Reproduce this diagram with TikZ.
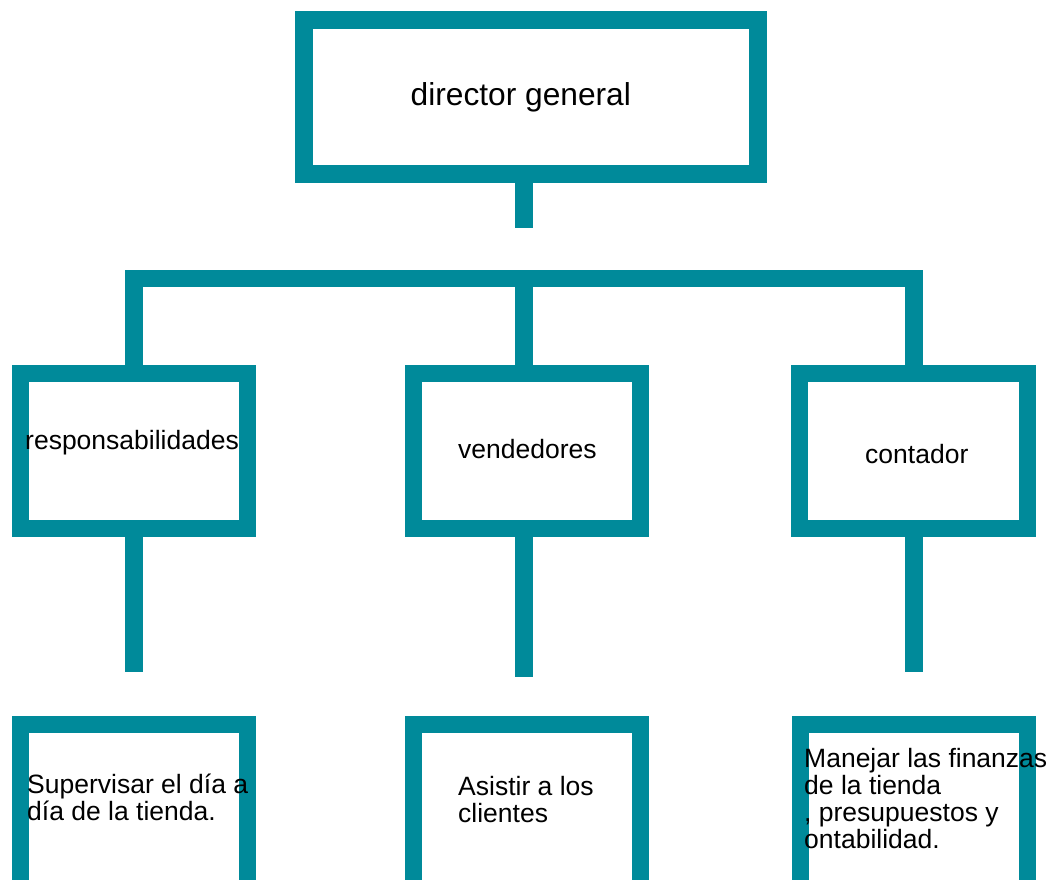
\documentclass[tikz,border=0pt]{standalone}
\usepackage{fontspec}
\setmainfont{Liberation Sans}
\definecolor{orgteal}{RGB}{0,138,154}
\begin{document}
\begin{tikzpicture}[x=1pt,y=-1pt,
  box/.style={draw=orgteal, line width=17.5pt, rectangle, inner sep=0pt, outer sep=0pt},
  conn/.style={draw=orgteal, line width=17.5pt},
  lbl/.style={inner sep=0pt, anchor=base west, font=\fontsize{26.5}{27}\selectfont, align=left}]
\useasboundingbox (0,0) rectangle (1056,879);
\clip (0,0) rectangle (1056,879);
% boxes
\node[box, minimum width=454pt, minimum height=154pt] (top) at (531,97) {};
\node[box, minimum width=227pt, minimum height=155pt] (resp) at (134,451) {};
\node[box, minimum width=227pt, minimum height=155pt] (vend) at (527,451) {};
\node[box, minimum width=228pt, minimum height=155pt] (cont) at (913.5,451) {};
\node[box, minimum width=227pt, minimum height=175.5pt] (sup) at (134,812.25) {};
\node[box, minimum width=227pt, minimum height=175.5pt] (asis) at (527,812.25) {};
\node[box, minimum width=227pt, minimum height=175.5pt] (fin) at (914,812.25) {};
% connectors
\coordinate (stemT) at (524,228);
\coordinate (barR) at (914,278.5);
\coordinate (endA) at (134,672);
\coordinate (endB) at (524,677);
\coordinate (endC) at (914,672);
\draw[conn] (top.south -| stemT) -- (stemT);
\draw[conn] (resp.north) |- (barR) -- (barR |- cont.north);
\draw[conn] (vend.north -| stemT) -- (stemT |- barR);
\draw[conn] (resp.south) -- (endA);
\draw[conn] (vend.south -| endB) -- (endB);
\draw[conn] (cont.south -| endC) -- (endC);
% texts
\node[inner sep=0pt, anchor=base west, font=\fontsize{31.7}{38}\selectfont] (tdir) at (410.5,105) {director general};
\node[lbl] (tresp) at (25,449) {responsabilidades};
\node[lbl] (tvend) at (458,458) {vendedores};
\node[lbl] (tcont) at (865,463) {contador};
\node[lbl] (tsup) at (27,820) {Supervisar el día a\\día de la tienda.};
\node[lbl] (tasis) at (458,822) {Asistir a los\\clientes};
\node[lbl] (tfin) at (804,848) {Manejar las finanzas\\de la tienda\\, presupuestos y\\ontabilidad.};
\end{tikzpicture}
\end{document}
